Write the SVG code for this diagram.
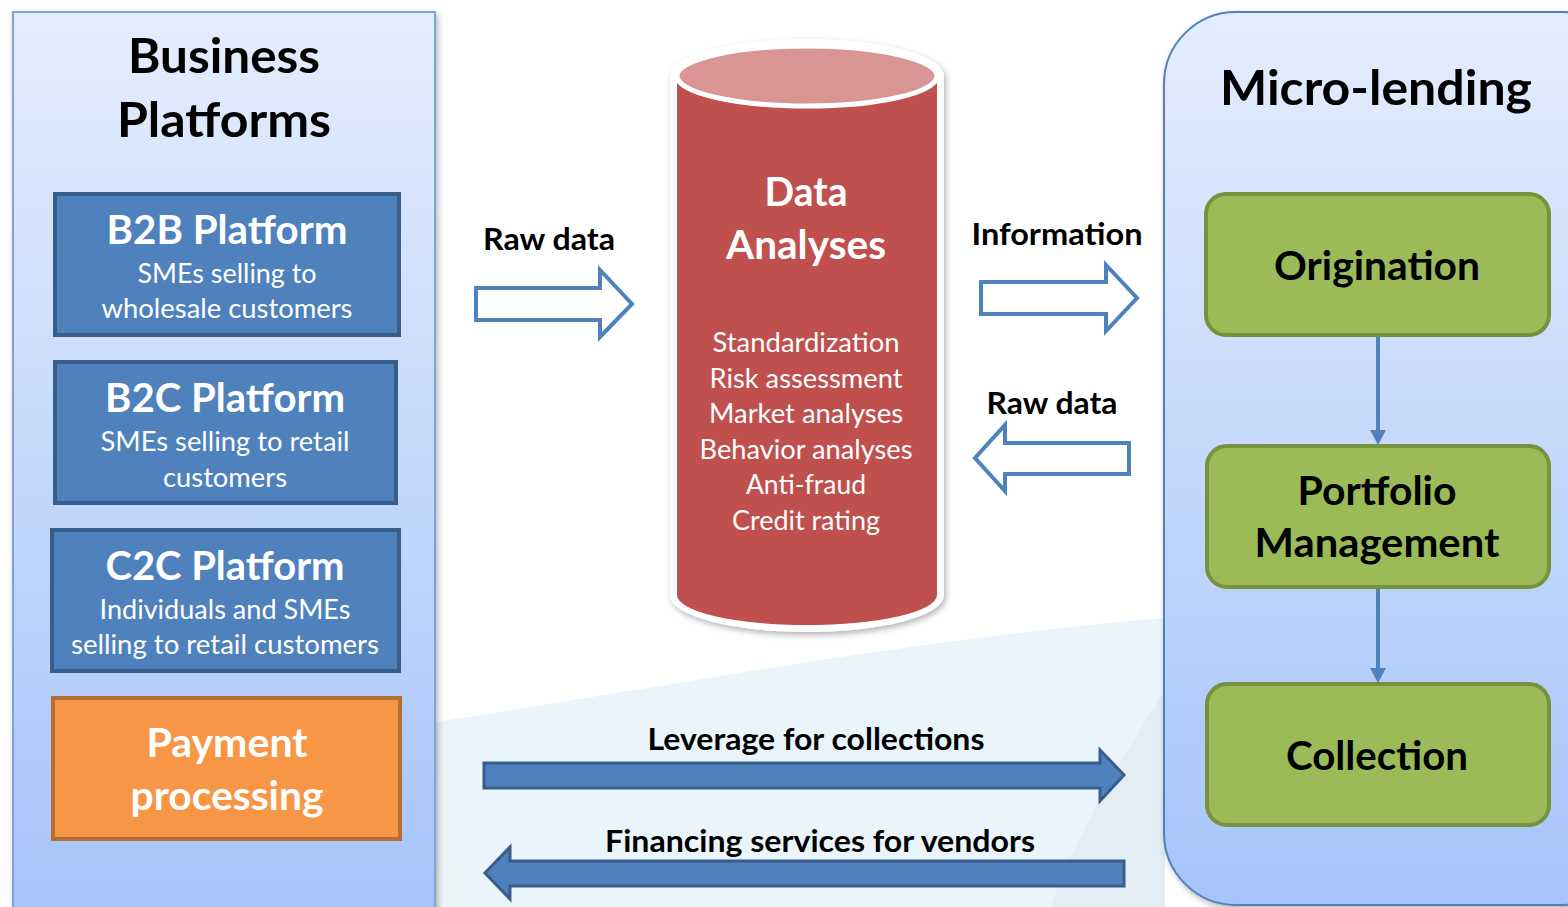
<svg xmlns="http://www.w3.org/2000/svg" width="1568" height="907" viewBox="0 0 1568 907">
<defs>
<linearGradient id="panelGrad" x1="0" y1="0" x2="0" y2="1">
<stop offset="0" stop-color="#e4edfd"/>
<stop offset="1" stop-color="#a6c4fa"/>
</linearGradient>
<filter id="shadow" x="-10%" y="-10%" width="120%" height="120%">
<feGaussianBlur in="SourceAlpha" stdDeviation="3"/>
<feOffset dx="2" dy="3" result="o"/>
<feComponentTransfer><feFuncA type="linear" slope="0.3"/></feComponentTransfer>
<feMerge><feMergeNode/><feMergeNode in="SourceGraphic"/></feMerge>
</filter>
<marker id="vhead" markerWidth="6" markerHeight="6" refX="5" refY="3" orient="auto" markerUnits="strokeWidth">
<path d="M0,0 L6,3 L0,6 Z" fill="#4f81bd"/>
</marker>
</defs>
<style>
text { font-family: Lato, "Open Sans", "Liberation Sans", sans-serif; }
.hd { font-weight: 700; fill: #000; text-anchor: middle; }
.wt { font-weight: 700; fill: #fff; text-anchor: middle; }
.ws { font-weight: 400; fill: #fff; text-anchor: middle; }
.blue { fill: #4f81bd; stroke: #385d8a; stroke-width: 4; }
.orange { fill: #f79646; stroke: #b66d31; stroke-width: 4; }
.green { fill: #9bbb59; stroke: #76923c; stroke-width: 4; }
.hollow { fill: #fff; stroke: #4f81bd; stroke-width: 4; stroke-linejoin: miter; }
.solid { fill: #4f81bd; stroke: #385d8a; stroke-width: 3; }
.vline { stroke: #4f81bd; stroke-width: 4; fill: none; }
</style>

<rect x="0" y="0" width="1568" height="907" fill="#ffffff"/>
<path d="M435,722 C650,690 900,640 1165,618 L1165,907 L435,907 Z" fill="#eaf4fb"/>
<path d="M1165,690 C1120,760 1075,840 1050,907 L1165,907 Z" fill="#e2edf4"/>

<g id="business-platforms">
<rect x="13" y="12" width="422" height="910" fill="url(#panelGrad)" stroke="#7fa3d6" stroke-width="2" filter="url(#shadow)"/>
<text class="hd" x="224" y="73" font-size="48" textLength="192" lengthAdjust="spacingAndGlyphs">Business</text>
<text class="hd" x="224" y="137" font-size="48" textLength="214" lengthAdjust="spacingAndGlyphs">Platforms</text>
</g>

<g id="b2b">
<rect class="blue" x="55" y="194" width="344" height="141"/>
<text class="wt" x="227" y="244" font-size="40" textLength="241" lengthAdjust="spacingAndGlyphs">B2B Platform</text>
<text class="ws" x="227" y="283" font-size="26" textLength="179" lengthAdjust="spacingAndGlyphs">SMEs selling to</text>
<text class="ws" x="227" y="318" font-size="26" textLength="251" lengthAdjust="spacingAndGlyphs">wholesale customers</text>
</g>

<g id="b2c">
<rect class="blue" x="55" y="362" width="341" height="141"/>
<text class="wt" x="225" y="412" font-size="40" textLength="240" lengthAdjust="spacingAndGlyphs">B2C Platform</text>
<text class="ws" x="225" y="451" font-size="26" textLength="249" lengthAdjust="spacingAndGlyphs">SMEs selling to retail</text>
<text class="ws" x="225" y="487" font-size="26" textLength="124" lengthAdjust="spacingAndGlyphs">customers</text>
</g>

<g id="c2c">
<rect class="blue" x="52" y="530" width="347" height="141"/>
<text class="wt" x="225" y="580" font-size="40" textLength="239" lengthAdjust="spacingAndGlyphs">C2C Platform</text>
<text class="ws" x="225" y="619" font-size="26" textLength="251" lengthAdjust="spacingAndGlyphs">Individuals and SMEs</text>
<text class="ws" x="225" y="654" font-size="26" textLength="308" lengthAdjust="spacingAndGlyphs">selling to retail customers</text>
</g>

<g id="payment">
<rect class="orange" x="53" y="698" width="347" height="141"/>
<text class="wt" x="227" y="757" font-size="40" textLength="161" lengthAdjust="spacingAndGlyphs">Payment</text>
<text class="wt" x="227" y="810" font-size="40" textLength="193" lengthAdjust="spacingAndGlyphs">processing</text>
</g>

<g id="data-analyses">
<path d="M670,76 A137,37 0 0 1 944,76 L944,595 A137,37 0 0 1 670,595 Z" fill="#ffffff" filter="url(#shadow)"/>
<path d="M677,76 L677,595 A130,30 0 0 0 937,595 L937,76 Z" fill="#c0504d"/>
<ellipse cx="807" cy="76" rx="130" ry="30" fill="#d99594" stroke="#ffffff" stroke-width="5"/>
<text class="wt" x="806" y="206" font-size="40" textLength="83" lengthAdjust="spacingAndGlyphs">Data</text>
<text class="wt" x="806" y="259" font-size="40" textLength="160" lengthAdjust="spacingAndGlyphs">Analyses</text>
<text class="ws" x="806" y="352" font-size="26" textLength="187" lengthAdjust="spacingAndGlyphs">Standardization</text>
<text class="ws" x="806" y="388" font-size="26" textLength="193" lengthAdjust="spacingAndGlyphs">Risk assessment</text>
<text class="ws" x="806" y="423" font-size="26" textLength="194" lengthAdjust="spacingAndGlyphs">Market analyses</text>
<text class="ws" x="806" y="459" font-size="26" textLength="213" lengthAdjust="spacingAndGlyphs">Behavior analyses</text>
<text class="ws" x="806" y="494" font-size="26" textLength="120" lengthAdjust="spacingAndGlyphs">Anti-fraud</text>
<text class="ws" x="806" y="530" font-size="26" textLength="148" lengthAdjust="spacingAndGlyphs">Credit rating</text>
</g>

<g id="micro-lending">
<rect x="1164" y="12" width="470" height="893" rx="72" ry="72" fill="url(#panelGrad)" stroke="#4f81bd" stroke-width="2" filter="url(#shadow)"/>
<text class="hd" x="1376" y="105" font-size="48" textLength="312" lengthAdjust="spacingAndGlyphs">Micro-lending</text>
</g>

<g id="origination">
<rect class="green" x="1206" y="194" width="343" height="141" rx="20" ry="20"/>
<text class="hd" x="1377" y="280" font-size="40" textLength="206" lengthAdjust="spacingAndGlyphs">Origination</text>
</g>

<g id="portfolio">
<rect class="green" x="1207" y="446" width="342" height="141" rx="20" ry="20"/>
<text class="hd" x="1377" y="505" font-size="40" textLength="159" lengthAdjust="spacingAndGlyphs">Portfolio</text>
<text class="hd" x="1377" y="557" font-size="40" textLength="245" lengthAdjust="spacingAndGlyphs">Management</text>
</g>

<g id="collection">
<rect class="green" x="1207" y="684" width="342" height="141" rx="20" ry="20"/>
<text class="hd" x="1377" y="770" font-size="40" textLength="182" lengthAdjust="spacingAndGlyphs">Collection</text>
</g>

<g id="connectors">
<path class="hollow" d="M476,288 L600,288 L600,270 L632,304 L600,337 L600,320 L476,320 Z"/>
<text class="hd" x="549" y="250" font-size="31" textLength="132" lengthAdjust="spacingAndGlyphs">Raw data</text>

<path class="hollow" d="M981,282 L1106,282 L1106,265 L1137,298 L1106,331 L1106,314 L981,314 Z"/>
<text class="hd" x="1057" y="245" font-size="31" textLength="171" lengthAdjust="spacingAndGlyphs">Information</text>

<path class="hollow" d="M1129,443 L1005,443 L1005,425 L975,458 L1005,491 L1005,474 L1129,474 Z"/>
<text class="hd" x="1052" y="414" font-size="31" textLength="131" lengthAdjust="spacingAndGlyphs">Raw data</text>

<path class="solid" d="M484,763 L1100,763 L1100,750 L1124,775 L1100,801 L1100,788 L484,788 Z"/>
<text class="hd" x="816" y="750" font-size="30" textLength="337" lengthAdjust="spacingAndGlyphs">Leverage for collections</text>

<path class="solid" d="M1124,861 L510,861 L510,847 L485,873 L510,899 L510,886 L1124,886 Z"/>
<text class="hd" x="820" y="852" font-size="30" textLength="430" lengthAdjust="spacingAndGlyphs">Financing services for vendors</text>

<line class="vline" x1="1378" y1="337" x2="1378" y2="432"/>
<polygon points="1370,430 1386,430 1378,445" fill="#4f81bd"/>
<line class="vline" x1="1378" y1="589" x2="1378" y2="670"/>
<polygon points="1370,668 1386,668 1378,683" fill="#4f81bd"/>
</g>
</svg>
